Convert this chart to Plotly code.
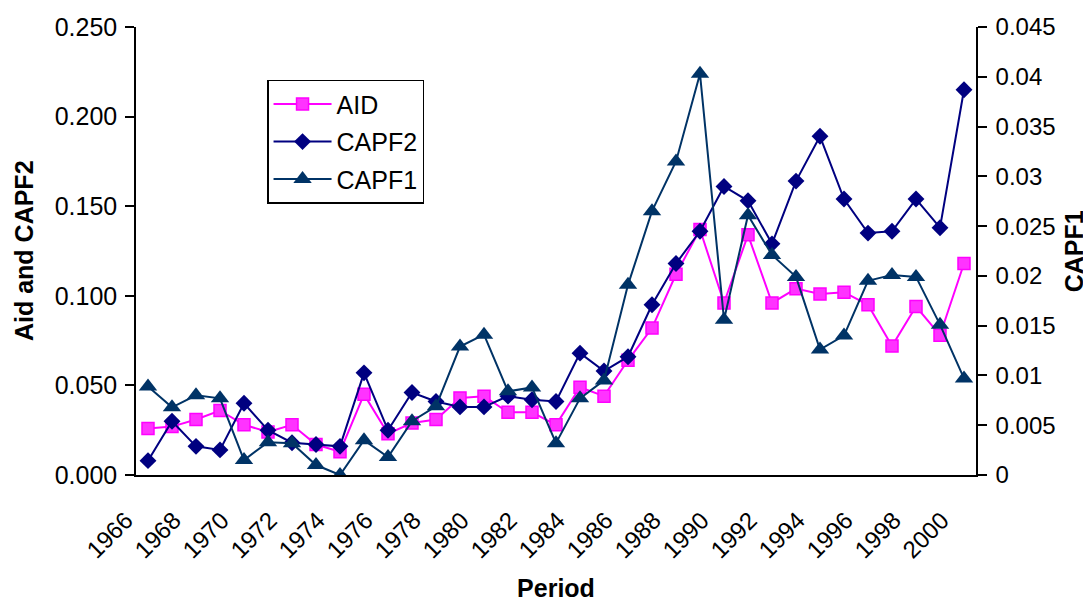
import plotly.graph_objects as go

years = [str(y) for y in range(1966, 2001)]
aid = [0.026, 0.027, 0.031, 0.036, 0.028, 0.024, 0.028, 0.017, 0.013, 0.045,
       0.023, 0.029, 0.031, 0.043, 0.044, 0.035, 0.035, 0.028, 0.049, 0.044,
       0.064, 0.082, 0.112, 0.137, 0.096, 0.134, 0.096, 0.104, 0.101, 0.102,
       0.095, 0.072, 0.094, 0.078, 0.118]
capf2 = [0.008, 0.030, 0.016, 0.014, 0.040, 0.025, 0.018, 0.017, 0.016, 0.057,
         0.025, 0.046, 0.041, 0.038, 0.038, 0.044, 0.042, 0.041, 0.068, 0.058,
         0.066, 0.095, 0.118, 0.136, 0.161, 0.153, 0.129, 0.164, 0.189, 0.154,
         0.135, 0.136, 0.154, 0.138, 0.215]
capf1 = [0.0089, 0.0068, 0.0080, 0.0077, 0.0015, 0.0033, 0.0032, 0.0010, 0.0000, 0.0035,
         0.0018, 0.0054, 0.0069, 0.0129, 0.0141, 0.0084, 0.0088, 0.0032, 0.0077, 0.0095,
         0.0191, 0.0265, 0.0315, 0.0403, 0.0156, 0.0261, 0.0221, 0.0199, 0.0126, 0.0140,
         0.0195, 0.0201, 0.0199, 0.0151, 0.0097]

left_ticks = [0.0, 0.05, 0.10, 0.15, 0.20, 0.25]
left_ticktext = ["0.000", "0.050", "0.100", "0.150", "0.200", "0.250"]
right_ticks = [0, 0.005, 0.01, 0.015, 0.02, 0.025, 0.03, 0.035, 0.04, 0.045]
right_ticktext = ["0", "0.005", "0.01", "0.015", "0.02", "0.025", "0.03", "0.035", "0.04", "0.045"]
xlabels = [y if (int(y) - 1966) % 2 == 0 else "" for y in years]
boundaries = [i - 0.5 for i in range(len(years) + 1)]

FONT = "Liberation Sans, Arial, sans-serif"

fig = go.Figure()
fig.add_trace(go.Scatter(
    x=years, y=aid, name="AID", mode="lines+markers", legendgroup="aid",
    line=dict(color="#FF00FF", width=2),
    marker=dict(symbol="square", size=12, color="#FF33FF", line=dict(color="#FF00FF", width=1.5)),
    xaxis="x", yaxis="y"))
fig.add_trace(go.Scatter(
    x=years, y=capf2, name="CAPF2", mode="lines+markers", legendgroup="capf2",
    line=dict(color="#000080", width=2),
    marker=dict(symbol="diamond", size=13, color="#000080"),
    xaxis="x", yaxis="y"))
fig.add_trace(go.Scatter(
    x=years, y=capf1, name="CAPF1", mode="lines+markers", legendgroup="capf1",
    line=dict(color="#003366", width=2),
    marker=dict(symbol="triangle-up", size=16, color="#003366"),
    xaxis="x", yaxis="y2"))

axis_common = dict(showgrid=False, zeroline=False, tickcolor="black", tickwidth=1.5)
nx = len(years)

fig.update_layout(
    width=1091, height=603,
    margin=dict(l=128, r=123, t=19, b=136, autoexpand=False),
    paper_bgcolor="white", plot_bgcolor="white",
    font=dict(family=FONT, color="black", size=24),
    showlegend=True,
    legend=dict(x=0.156, y=0.882, xanchor="left", yanchor="top",
                bgcolor="white", bordercolor="black", borderwidth=1.5,
                font=dict(size=25, family=FONT), itemwidth=58,
                tracegroupgap=2),
    xaxis=dict(type="category", categoryorder="array", categoryarray=years,
               range=[-0.5, nx - 0.5],
               tickmode="array", tickvals=years, ticktext=xlabels,
               tickangle=-45, ticks="", tickfont=dict(size=24),
               ticklabelshift=-22, ticklabelstandoff=20,
               showline=True, linecolor="black", linewidth=1.5,
               title=dict(text="<b>Period</b>", font=dict(size=25), standoff=17),
               **axis_common),
    xaxis3=dict(overlaying="x", anchor="y", side="bottom", range=[-0.5, nx - 0.5],
                tickmode="array", tickvals=boundaries, ticks="outside", ticklen=7,
                showticklabels=False, showline=False, **axis_common),
    xaxis4=dict(overlaying="x", anchor="y", side="bottom", range=[-0.5, nx - 0.5],
                tickmode="array", tickvals=boundaries, ticks="inside", ticklen=7,
                showticklabels=False, showline=False, **axis_common),
    yaxis=dict(range=[0, 0.25], tickmode="array", tickvals=left_ticks, ticktext=left_ticktext,
               ticks="outside", ticklen=9, showline=True, linecolor="black", linewidth=1.5,
               tickfont=dict(size=25), ticklabelstandoff=3,
               **axis_common),
    yaxis3=dict(overlaying="y", side="left", anchor="x", range=[0, 0.25],
                tickmode="array", tickvals=left_ticks, ticks="inside", ticklen=9,
                showticklabels=False, showline=False, **axis_common),
    yaxis2=dict(overlaying="y", side="right", anchor="x", range=[0, 0.045],
                tickmode="array", tickvals=right_ticks, ticktext=right_ticktext,
                ticks="outside", ticklen=9, showline=True, linecolor="black", linewidth=1.5,
                tickfont=dict(size=24), ticklabelstandoff=4,
                **axis_common),
    yaxis4=dict(overlaying="y", side="right", anchor="x", range=[0, 0.045],
                tickmode="array", tickvals=right_ticks, ticks="inside", ticklen=9,
                showticklabels=False, showline=False, **axis_common),
    annotations=[
        dict(text="<b>Aid and CAPF2</b>", textangle=-90, xref="paper", yref="paper",
             x=-0.1333, y=0.5, xanchor="center", yanchor="middle", showarrow=False,
             font=dict(size=25, family=FONT, color="black")),
        dict(text="<b>CAPF1</b>", textangle=-90, xref="paper", yref="paper",
             x=1.117, y=0.5, xanchor="center", yanchor="middle", showarrow=False,
             font=dict(size=25, family=FONT, color="black")),
    ],
)

fig.write_html("out.html")
